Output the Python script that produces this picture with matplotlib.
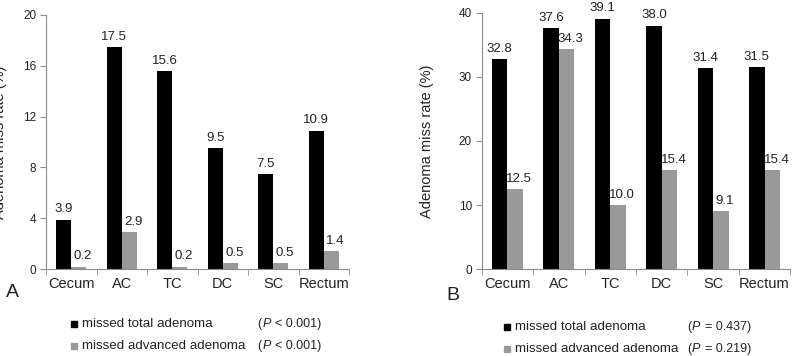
import numpy as np
import matplotlib.pyplot as plt
from matplotlib.patches import Rectangle

plt.rcParams['font.family'] = ['Liberation Sans', 'DejaVu Sans']

# data
categories = ['Cecum', 'AC', 'TC', 'DC', 'SC', 'Rectum']
total_a = [3.9, 17.5, 15.6, 9.5, 7.5, 10.9]
advanced_a = [0.2, 2.9, 0.2, 0.5, 0.5, 1.4]
total_b = [32.8, 37.6, 39.1, 38.0, 31.4, 31.5]
advanced_b = [12.5, 34.3, 10.0, 15.4, 9.1, 15.4]
legend_labels = ['missed total adenoma', 'missed advanced adenoma']
p_a = ['< 0.001)', '< 0.001)']
p_b = ['= 0.437)', '= 0.219)']

black = '#000000'
gray = '#999999'
spine_col = '#8c8c8c'
txt_col = '#222222'

fig = plt.figure(figsize=(7.95, 3.56), dpi=100)


def panel(rect, total, adv, ymax, step):
    ax = fig.add_axes(rect)
    x = np.arange(len(categories))
    w = 0.3
    ax.bar(x - w / 2, total, w, color=black)
    ax.bar(x + w / 2, adv, w, color=gray)
    # value labels on top of each bar
    for xi, v in zip(x, total):
        ax.annotate('%.1f' % v, (xi - w / 2, v), xytext=(0, 3), textcoords='offset points',
                    ha='center', va='bottom', fontsize=9.5, color=txt_col)
    for xi, v in zip(x, adv):
        ax.annotate('%.1f' % v, (xi + w / 2, v), xytext=(3, 3), textcoords='offset points',
                    ha='center', va='bottom', fontsize=9.5, color=txt_col)
    ax.set_xlim(-0.5, len(categories) - 0.5)
    ax.set_ylim(0, ymax)
    ax.set_yticks(np.arange(0, ymax + 0.1, step))
    ax.set_xticks(x)
    ax.set_xticklabels(categories, fontsize=10.5, color=txt_col)
    ax.set_xticks(np.arange(-0.5, len(categories)), minor=True)
    ax.tick_params(axis='x', which='major', length=0, pad=6)
    ax.tick_params(axis='x', which='minor', length=4, color=spine_col)
    ax.tick_params(axis='y', length=4, color=spine_col, labelsize=8.5, pad=3,
                   labelcolor=txt_col)
    for s in ['top', 'right']:
        ax.spines[s].set_visible(False)
    for s in ['left', 'bottom']:
        ax.spines[s].set_color(spine_col)
    ax.set_ylabel('Adenoma miss rate (%)', fontsize=10.5, color=txt_col)
    return ax


ax1 = panel([0.058, 0.244, 0.381, 0.714], total_a, advanced_a, 20, 4)
ax1.yaxis.set_label_coords(-0.13, 0.5)
ax2 = panel([0.606, 0.244, 0.388, 0.72], total_b, advanced_b, 40, 10)
ax2.yaxis.set_label_coords(-0.155, 0.5)

fig.text(0.008, 0.178, 'A', fontsize=14, va='center', color=txt_col)
fig.text(0.561, 0.170, 'B', fontsize=14, va='center', color=txt_col)


def legend(x_sq, x_txt, x_p, ys, ptexts):
    for y, col, lab, pt in zip(ys, [black, gray], legend_labels, ptexts):
        fig.add_artist(Rectangle((x_sq, y - 0.009), 0.0075, 0.018, color=col,
                                 transform=fig.transFigure))
        fig.text(x_txt, y, lab, fontsize=9.6, va='center', color=txt_col)
        fig.text(x_p, y, '(', fontsize=9, va='center', color=txt_col)
        fig.text(x_p + 0.0065, y, 'P', fontsize=9, va='center', color=txt_col,
                 fontstyle='italic')
        fig.text(x_p + 0.0225, y, pt, fontsize=9, va='center', color=txt_col)


legend(0.089, 0.103, 0.324, [1 - 324 / 356, 1 - 346 / 356], p_a)
legend(0.634, 0.648, 0.864, [1 - 327 / 356, 1 - 349 / 356], p_b)

fig.savefig('out.png', dpi=100)
